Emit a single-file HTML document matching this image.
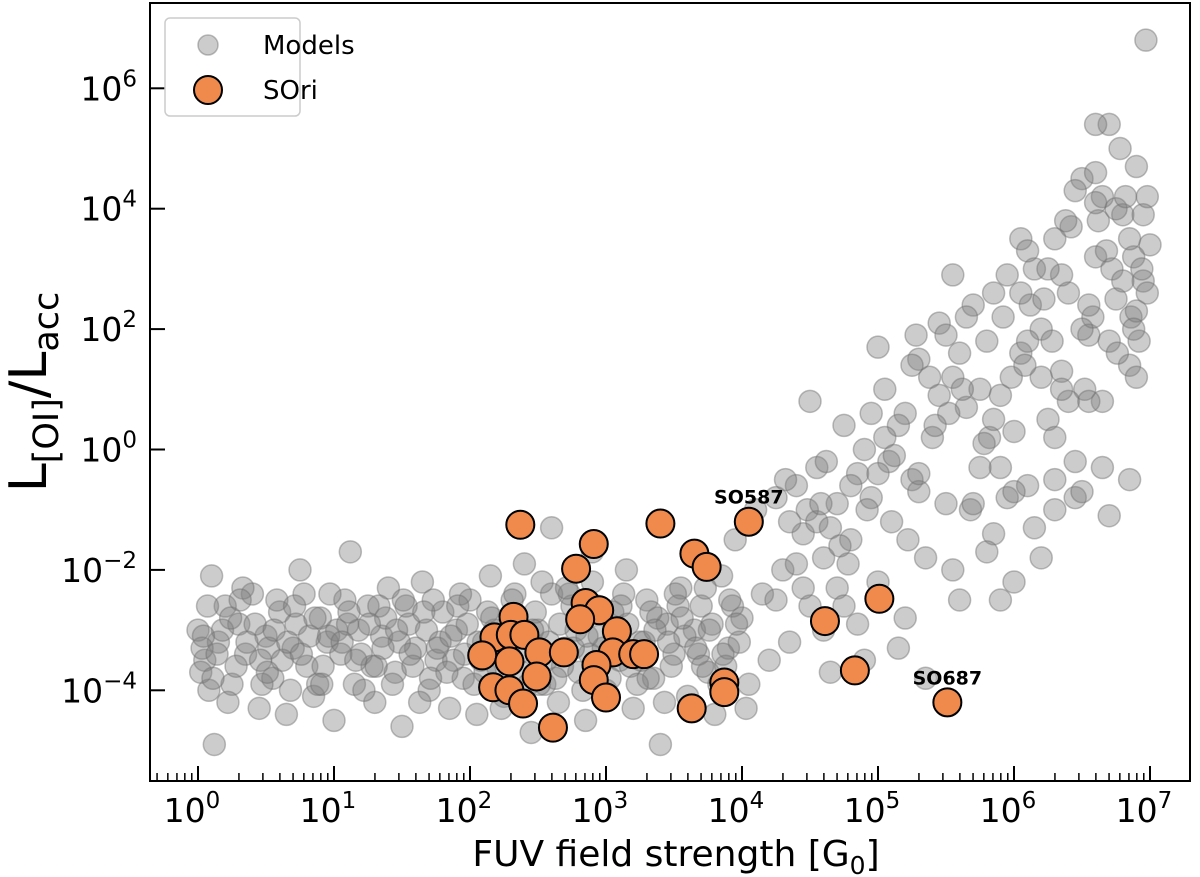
<!DOCTYPE html>
<html><head><meta charset="utf-8"><style>
html,body{margin:0;padding:0;background:#fff;}
svg{display:block;font-family:"DejaVu Sans","Liberation Sans",sans-serif;}
</style></head><body>
<svg id="chart" width="1200" height="877" viewBox="0 0 1200 877">
<g id="models"></g>
<g id="sori"></g>
<g id="axes"></g>
</svg>
<script>
// log10 of FUV field strength for model points
const modelG = [
0.0,0.05,0.1,0.08,0.15,0.2,0.02,0.12,0.25,0.3,
0.35,0.4,0.45,0.5,0.55,0.6,0.65,0.7,0.75,0.8,
0.85,0.9,0.95,1.0,1.02,1.08,1.12,1.15,1.2,1.25,
1.3,1.35,1.4,1.45,1.5,1.55,1.6,1.65,1.7,1.75,
1.8,1.85,1.9,1.95,2.0,2.05,2.1,2.15,2.2,2.25,
2.3,2.35,2.4,2.45,2.5,2.55,2.6,2.65,2.7,2.75,
2.8,2.85,2.9,2.95,3.0,3.05,3.1,3.15,3.2,3.25,
3.3,3.35,3.4,3.45,3.5,3.55,3.6,3.65,3.7,3.75,
3.8,3.85,3.9,3.95,4.0,4.05,4.1,4.15,4.2,4.25,
0.03,0.18,0.28,0.42,0.52,0.62,0.72,0.82,0.92,0.97,
1.05,1.18,1.28,1.38,1.48,1.58,1.68,1.78,1.88,1.98,
2.08,2.18,2.28,2.38,2.48,2.58,2.68,2.78,2.88,2.98,
3.08,3.18,3.28,3.38,3.48,3.58,3.68,3.78,3.88,3.98,
0.07,0.22,0.33,0.47,0.58,0.68,0.78,0.88,1.1,1.22,
1.33,1.43,1.53,1.63,1.73,1.83,1.93,2.03,2.13,2.23,
2.33,2.43,2.53,2.63,2.73,2.83,2.93,3.03,3.13,3.23,
3.33,3.43,3.53,3.63,3.73,3.83,3.93,4.03,2.6,2.9,
4.3,4.35,4.4,4.45,4.5,4.55,4.6,4.65,4.7,4.75,
4.8,4.85,4.9,4.95,5.0,5.05,5.1,5.15,5.2,5.25,
5.3,5.35,5.4,5.45,5.5,5.55,5.6,5.65,5.7,5.75,
5.8,5.85,5.9,5.95,6.0,6.05,6.1,6.15,6.2,6.25,
6.3,6.35,6.4,6.45,6.5,6.55,6.6,6.65,6.7,6.75,
6.8,6.85,6.9,6.95,7.0,6.97,6.92,6.88,6.78,6.62,
4.32,4.48,4.62,4.78,4.92,5.08,5.22,5.38,5.52,5.68,
5.82,5.98,6.12,6.28,6.42,6.58,6.72,6.86,6.98,6.52,
4.4,4.55,4.7,4.85,5.0,5.15,5.3,5.45,5.6,5.75,
5.9,6.05,6.2,6.35,6.5,6.65,6.8,6.95,6.85,6.4,
4.6,4.9,5.2,5.35,5.55,5.8,6.0,6.15,6.3,6.45,
4.25,4.45,4.65,4.8,5.05,5.25,5.5,5.65,5.85,6.05,
6.25,6.45,6.6,6.75,6.9,6.98,6.7,6.55,6.3,6.1,
6.5,6.85,6.65,6.3,5.95,5.7,6.7,5.9,6.2,6.0,
0.04,0.14,0.24,0.36,0.46,0.56,0.66,0.76,0.86,0.96,
1.06,1.16,1.26,1.36,1.46,1.56,1.66,1.76,1.86,1.96,
2.06,2.16,2.26,2.36,2.46,2.56,2.66,2.76,2.86,2.96,
3.06,3.16,3.26,3.36,3.46,3.56,3.66,3.76,3.86,3.96,
0.11,0.31,0.51,0.71,0.91,1.11,1.31,1.51,1.71,1.91,
2.11,2.31,2.51,2.71,2.91,3.11,3.31,3.51,3.71,3.91,
4.35,4.58,4.72,4.95,5.12,5.28,5.42,5.62,5.78,5.92,
6.08,6.22,6.38,6.55,6.68,6.82,6.94,6.76,6.6,6.9,
4.5,4.75,5.0,5.3,5.55,5.85,6.1,6.35,6.6,6.88
];
// log10 of L[OI]/Lacc for model points
const modelL = [
-3.0,-3.5,-2.1,-4.0,-3.2,-2.6,-3.7,-4.9,-3.9,-2.9,
-3.4,-2.4,-4.3,-3.1,-3.8,-2.7,-4.4,-3.3,-2.0,-3.6,
-4.1,-2.8,-3.2,-4.5,-3.0,-2.5,-1.7,-3.9,-3.4,-2.6,
-4.2,-3.1,-2.3,-3.7,-4.6,-2.9,-3.3,-2.2,-4.0,-3.5,
-2.7,-4.3,-3.0,-3.8,-2.5,-4.4,-3.2,-2.1,-3.6,-4.1,
-2.8,-3.4,-1.9,-4.7,-3.0,-3.9,-2.4,-4.2,-3.3,-2.6,
-3.7,-4.5,-2.2,-3.1,-4.0,-2.7,-3.5,-2.0,-4.3,-3.2,
-2.5,-3.8,-4.9,-2.9,-3.4,-2.3,-4.1,-3.0,-2.6,-3.7,
-4.4,-2.1,-3.3,-1.5,-2.8,-3.9,-1.0,-2.4,-3.5,-0.8,
-3.3,-3.0,-3.6,-2.9,-3.3,-3.5,-2.9,-3.1,-3.6,-2.4,
-3.4,-3.0,-3.6,-2.8,-3.2,-3.6,-3.0,-3.2,-3.5,-2.9,
-3.5,-3.0,-3.3,-3.7,-2.7,-3.2,-3.6,-3.0,-3.4,-3.3,
-3.0,-3.6,-3.2,-2.8,-3.6,-3.1,-3.4,-2.9,-3.6,-3.2,
-2.6,-4.2,-2.3,-3.9,-2.5,-4.0,-2.4,-3.9,-2.9,-4.0,
-2.6,-3.9,-2.6,-4.2,-2.5,-3.7,-2.4,-3.9,-2.7,-4.3,
-2.4,-3.9,-2.2,-3.8,-2.4,-4.0,-2.6,-3.8,-2.4,-3.9,
-2.7,-4.2,-2.6,-4.3,-2.3,-3.9,-2.6,-4.3,-1.3,-1.7,
-2.0,-3.2,-0.6,-1.4,-2.6,-0.3,-1.8,-3.7,-0.9,0.4,
-1.5,-2.9,0.0,-0.8,-2.2,1.0,-1.2,-3.3,0.6,-0.5,
1.5,-1.8,0.2,2.1,-0.9,1.2,-2.5,0.7,2.4,-0.3,
1.8,-1.4,0.9,2.9,0.3,1.6,-0.6,3.0,2.0,0.5,
3.5,1.3,2.6,-0.2,4.5,1.9,3.2,0.8,5.4,2.5,
3.9,1.4,4.7,2.8,3.4,6.8,1.8,3.2,5.0,3.8,
-0.5,-1.0,-0.2,-1.9,-1.0,-0.2,-1.5,1.2,0.6,-1.0,
0.2,1.2,2.4,1.8,3.7,2.2,3.0,2.2,2.6,1.0,
-1.9,-1.2,-2.3,-0.4,-0.4,0.4,-0.7,0.9,1.6,1.0,
-0.3,2.6,1.2,2.9,2.0,4.2,2.8,3.9,3.5,0.8,
-3.0,-3.5,-2.8,-3.8,-2.0,-1.7,-2.2,-1.3,-1.0,-0.8,
-2.5,-2.3,-1.3,-0.6,0.2,1.4,1.9,2.2,2.6,3.5,
3.0,4.3,5.4,4.0,2.3,4.2,1.8,0.8,0.2,1.8,
-0.7,-0.5,-0.3,-0.5,-0.8,-0.9,-1.1,-2.5,-1.8,-0.7,
-3.1,-3.4,-2.8,-3.2,-3.5,-3.0,-3.2,-3.4,-2.8,-3.1,
-3.2,-3.5,-2.9,-3.3,-3.0,-3.4,-2.7,-3.3,-3.1,-3.4,
-3.2,-2.8,-3.4,-3.1,-3.0,-3.5,-2.9,-3.3,-3.1,-2.7,
-3.3,-2.9,-3.5,-3.0,-3.2,-2.8,-3.3,-3.0,-3.4,-2.9,
-3.8,-2.5,-3.7,-2.6,-3.9,-2.7,-3.6,-2.5,-3.8,-2.6,
-3.7,-2.5,-3.9,-2.3,-3.7,-2.6,-3.8,-2.4,-3.6,-2.5,
-1.2,-0.9,-1.6,0.6,-0.1,1.9,0.4,1.0,0.1,2.2,
1.4,2.5,3.8,2.4,3.3,4.2,3.0,1.6,4.6,1.2,
0.8,-2.6,1.7,-0.4,2.9,0.5,3.3,1.0,4.1,2.0
];
// SOri observed sources (log10 values)
const soriG = [2.37,2.91,2.78,3.40,3.65,3.74,2.85,2.95,2.81,3.08,3.05,3.20,3.28,2.93,2.91,3.00,2.32,2.18,2.30,2.40,2.09,2.29,2.51,2.69,2.49,2.17,2.29,2.39,2.61,3.63,3.87,3.87,4.05,4.61,5.01,4.83,5.51];
const soriL = [-1.25,-1.57,-1.98,-1.23,-1.73,-1.95,-2.55,-2.67,-2.82,-3.02,-3.37,-3.40,-3.40,-3.58,-3.83,-4.12,-2.78,-3.12,-3.08,-3.08,-3.42,-3.52,-3.37,-3.37,-3.77,-3.95,-4.00,-4.22,-4.62,-4.30,-3.87,-4.03,-1.20,-2.85,-2.48,-3.67,-4.20];
const annotNames = ["SO587","SO687"];
const annotIdx = [32,36];
const xTickExp = [0,1,2,3,4,5,6,7];
const yTickExp = [-4,-2,0,2,4,6];

const NS="http://www.w3.org/2000/svg";
const L=150,R=1190,T=3,B=781;
const X0=198,XD=136,Y0=449.5,YD=60.2;
function sx(lg){return X0+lg*XD;}
function sy(lg){return Y0-lg*YD;}
function mk(tag,attrs,parent){const e=document.createElementNS(NS,tag);for(const k in attrs)e.setAttribute(k,attrs[k]);parent.appendChild(e);return e;}

const gm=document.getElementById('models');
for(let i=0;i<modelG.length;i++){
  const c=mk('circle',{cx:sx(modelG[i]),cy:sy(modelL[i]),r:11,fill:'rgba(128,128,128,0.4)',stroke:'rgba(110,110,110,0.45)','stroke-width':1.5},gm);
  
  
}
const gs=document.getElementById('sori');
for(let i=0;i<soriG.length;i++){
  const c=mk('circle',{cx:sx(soriG[i]),cy:sy(soriL[i]),r:14,fill:'#ef8a4c',stroke:'#000','stroke-width':2},gs);
  
  
}
for(let k=0;k<annotIdx.length;k++){
  const i=annotIdx[k];
  const t=mk('text',{x:sx(soriG[i]),y:sy(soriL[i])-18,'text-anchor':'middle','font-size':19,'font-weight':'bold',fill:'#000'},gs);
  t.textContent=annotNames[k];
  
  
}
const ax=document.getElementById('axes');
const frame=mk('rect',{x:L,y:T,width:R-L,height:B-T,fill:'none',stroke:'#000','stroke-width':2},ax);


for(const e of xTickExp){
  const x=sx(e);
  const tk=mk('line',{x1:x,x2:x,y1:B,y2:B-15,stroke:'#000','stroke-width':2},ax);
  
  
  const t=mk('text',{x:x-6,y:B+41,'text-anchor':'middle','font-size':33,fill:'#000'},ax);
  t.innerHTML='10<tspan dy="-14" font-size="23">'+e+'</tspan>';
  
  
}
for(let e=-1;e<=7;e++){
  for(let m=2;m<10;m++){
    const x=sx(e+Math.log10(m));
    if(x<=L||x>=R)continue;
    const tk=mk('line',{x1:x,x2:x,y1:B,y2:B-8,stroke:'#000','stroke-width':1.5},ax);
    
    
  }
}
for(const e of yTickExp){
  const y=sy(e);
  const tk=mk('line',{x1:L,x2:L+15,y1:y,y2:y,stroke:'#000','stroke-width':2},ax);
  
  
  const t=mk('text',{x:137,y:y+12,'text-anchor':'end','font-size':33,fill:'#000'},ax);
  t.innerHTML='10<tspan dy="-14" font-size="23">'+(e<0?'\u2212'+(-e):e)+'</tspan>';
  
  
}
const xl=mk('text',{x:676,y:866,'text-anchor':'middle','font-size':36,fill:'#000'},ax);
xl.innerHTML='FUV field strength [G<tspan dy="8" font-size="25">0</tspan><tspan dy="-8">]</tspan>';


const yl=mk('text',{x:0,y:0,'text-anchor':'middle','font-size':52,fill:'#000',transform:'translate(46,392) rotate(-90)'},ax);
yl.innerHTML='L<tspan dy="12" font-size="35">[OI]</tspan><tspan dy="-12">/L</tspan><tspan dy="12" font-size="35">acc</tspan>';


// legend
const lg=mk('g',{},ax);


mk('rect',{x:165,y:18,width:135,height:98,rx:5,fill:'#fff','fill-opacity':0.8,stroke:'#ccc','stroke-width':1.5},lg);
const l1=mk('circle',{cx:208,cy:45,r:10,fill:'rgba(128,128,128,0.4)',stroke:'rgba(110,110,110,0.45)','stroke-width':1.5},lg);


const t1=mk('text',{x:263,y:54,'font-size':26,fill:'#000'},lg);
t1.textContent='Models';


const l2=mk('circle',{cx:208,cy:90,r:14,fill:'#ef8a4c',stroke:'#000','stroke-width':2},lg);


const t2=mk('text',{x:263,y:99,'font-size':26,fill:'#000'},lg);
t2.textContent='SOri';


</script>
</body></html>
